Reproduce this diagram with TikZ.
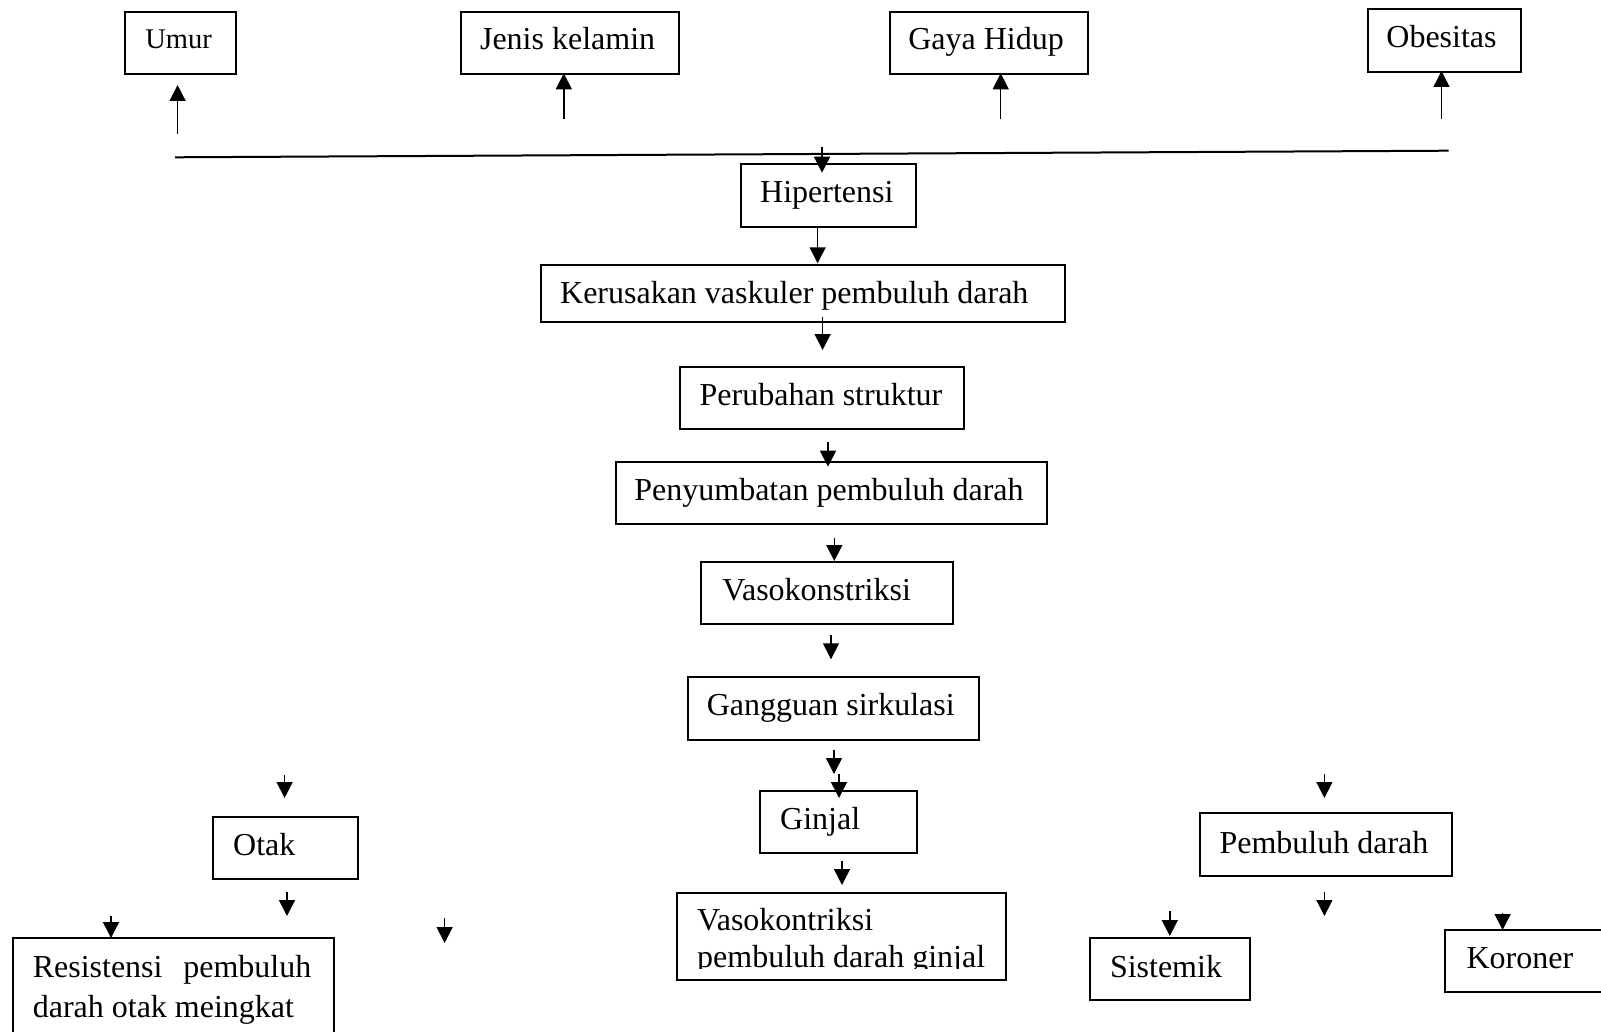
\documentclass[tikz,border=0pt]{standalone}
\usepackage{fontspec}
\setmainfont{Liberation Serif}
\usetikzlibrary{arrows.meta}
\begin{document}
\begin{tikzpicture}[x=1pt,y=-1pt,
  box/.style={draw, line width=2pt, inner sep=0pt, anchor=north west},
  txt/.style={inner sep=0pt, font=\fontsize{32}{38}\selectfont},
  arr/.style={line width=1.5pt, -{Triangle[width=16pt,length=16pt]}},
  plain/.style={line width=2pt}
]
\useasboundingbox (0,0) rectangle (1601,1032);
\clip (0,0) rectangle (1601,1032);

% boxes
\node[box, minimum width=111pt,   minimum height=62pt]   (umur)   at (124,11.5) {};
\node[box, minimum width=217.6pt, minimum height=62.3pt] (jenis)  at (460,11) {};
\node[box, minimum width=197.6pt, minimum height=62.3pt] (gaya)   at (889.4,11) {};
\node[box, minimum width=153pt,   minimum height=62.7pt] (obes)   at (1367,8.3) {};
\node[box, minimum width=175pt,   minimum height=62.7pt] (hip)    at (740,163.3) {};
\node[box, minimum width=523.7pt, minimum height=56.7pt] (ker)    at (540,264) {};
\node[box, minimum width=284.7pt, minimum height=62pt]   (per)    at (678.7,365.7) {};
\node[box, minimum width=431.2pt, minimum height=61.7pt] (pen)    at (614.8,461) {};
\node[box, minimum width=251.7pt, minimum height=62.3pt] (vaso)   at (700,561) {};
\node[box, minimum width=291pt,   minimum height=63pt]   (gang)   at (687.3,675.7) {};
\node[box, minimum width=157pt,   minimum height=62pt]   (ginjal) at (759,790) {};
\node[box, minimum width=329pt,   minimum height=87pt]   (vkg)    at (676,892) {};
\node[box, minimum width=144.8pt, minimum height=61.7pt] (otak)   at (212,815.8) {};
\node[box, minimum width=320.3pt, minimum height=113pt]  (res)    at (12.3,937) {};
\node[box, minimum width=252pt,   minimum height=63pt]   (pemb)   at (1198.6,812) {};
\node[box, minimum width=159.5pt, minimum height=62pt]   (sis)    at (1089.4,937) {};
\node[box, minimum width=176pt,   minimum height=62pt]   (kor)    at (1444,929) {};

% texts
\node[txt, anchor=base, font=\fontsize{28.5}{34}\selectfont] (tumur) at (178.6,48.5) {Umur};
\node[txt, anchor=base] (tjenis) at (567.6,50) {Jenis kelamin};
\node[txt, anchor=base] (tgaya)  at (986,50) {Gaya Hidup};
\node[txt, anchor=base] (tobes)  at (1441.5,47.7) {Obesitas};
\node[txt, anchor=base] (thip)   at (826.8,202.7) {Hipertensi};
\node[txt, anchor=base] (tker)   at (794.3,303.3) {Kerusakan vaskuler pembuluh darah};
\node[txt, anchor=base] (tper)   at (821,405) {Perubahan struktur};
\node[txt, anchor=base] (tpen)   at (829,500) {Penyumbatan pembuluh darah};
\node[txt, anchor=base] (tvaso)  at (816.7,600) {Vasokonstriksi};
\node[txt, anchor=base] (tgang)  at (830.8,715) {Gangguan sirkulasi};
\node[txt, anchor=base west] (tginjal) at (780,829) {Ginjal};
\node[txt, anchor=base west] (tvkg1) at (697,930) {Vasokontriksi};
\begin{scope}
  \clip (676,890) rectangle (1005,968.5);
  \node[txt, anchor=base west] (tvkg2) at (697,967) {pembuluh darah ginjal};
\end{scope}
\node[txt, anchor=base west] (totak) at (233,855) {Otak};
\node[txt, anchor=base west] (tres1) at (32.6,977) {\makebox[278.5pt][s]{Resistensi\hfill pembuluh}};
\node[txt, anchor=base west] (tres2) at (32.6,1017) {darah otak meingkat};
\node[txt, anchor=base] (tpemb) at (1324,853) {Pembuluh darah};
\node[txt, anchor=base] (tsis)  at (1166,977) {Sistemik};
\node[txt, anchor=base west] (tkor) at (1466.4,968) {Koroner};

% horizontal collector line
\coordinate (hl) at (175,157.3);
\coordinate (hr) at (1448.6,150.7);
\draw[plain] (hl) -- (hr);

% arrows
\foreach \n/\x/\a/\b in {
  au1/177.6/134/85,
  au2/563.8/119.3/73.3,
  au3/1000.7/119.3/73.3,
  au4/1441.5/119.3/71,
  ad1/822/146.7/172.7,
  ad2/817.6/226/263.3,
  ad3/822.6/316.7/350,
  ad4/828/441.7/466.7,
  ad5/834.3/537.7/561,
  ad6/831/635/659.3,
  ad7/834/750/774,
  ad8/839/774/798,
  ad9/842/861/885,
  al1/284.6/775/798,
  al2/287/892/916,
  al3/111/916/938,
  al4/444.6/918/943,
  ar1/1324.4/774/798,
  ar2/1324.4/892/916,
  ar3/1169.8/911/936,
  ar4/1502.6/913/930}
{
  \coordinate (\n s) at (\x,\a);
  \coordinate (\n e) at (\x,\b);
  \draw[arr] (\n s) -- (\n e);
}
\end{tikzpicture}
\end{document}
